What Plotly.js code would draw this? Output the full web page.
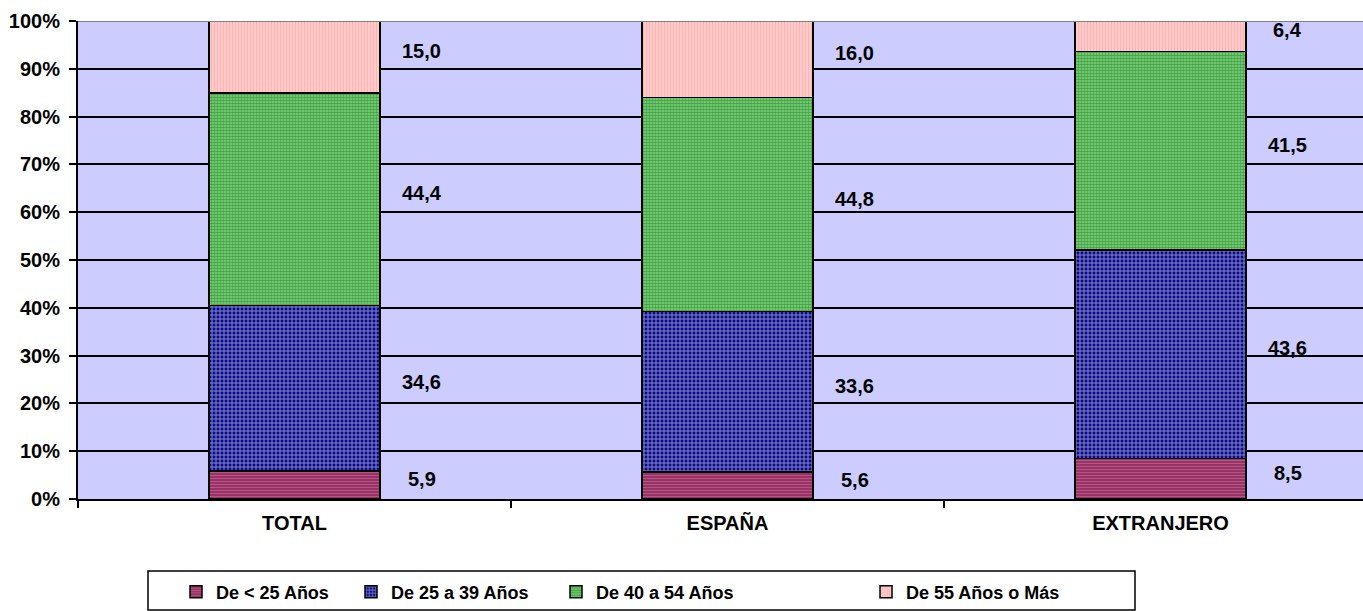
<!DOCTYPE html>
<html>
<head>
<meta charset="utf-8">
<script src="https://cdn.plot.ly/plotly-3.0.1.min.js"></script>
<style>html,body{margin:0;padding:0;overflow:hidden;background:#fff;}#chart{width:1363px;height:611px;}</style>
</head>
<body>
<div id="chart"></div>
<script>
const categories = ['TOTAL', 'ESPAÑA', 'EXTRANJERO'];
const seriesNames = ['De < 25 Años', 'De 25 a 39 Años', 'De 40 a 54 Años', 'De 55 Años o Más'];
const under25 = [5.9, 5.6, 8.5];
const from25to39 = [34.6, 33.6, 43.6];
const from40to54 = [44.4, 44.8, 41.5];
const over55 = [15.0, 16.0, 6.4];
const yTickValues = [0, 10, 20, 30, 40, 50, 60, 70, 80, 90, 100];

const seriesValues = [under25, from25to39, from40to54, over55];
const styles = [
  {color: '#993366', pattern: {shape: '-', fgcolor: '#D27AA6', size: 3, solidity: 0.35, fillmode: 'overlay'}},
  {color: '#0A0A8A', pattern: {shape: '+', fgcolor: '#FFFFFF', size: 4, solidity: 0.45, fillmode: 'overlay'}},
  {color: '#86D886', pattern: {shape: '.', fgcolor: '#006A00', size: 3, solidity: 0.65, fillmode: 'overlay'}},
  {color: '#FFCCCC', pattern: {shape: '|', fgcolor: '#FF9B9B', size: 3, solidity: 0.4, fillmode: 'overlay'}}
];
const font = {family: 'Arial, "Liberation Sans", sans-serif', size: 20, color: '#000', weight: 'bold'};

// pixel geometry helpers (layout only)
const W = 1363, H = 611, L = 78, T = 21, B = 112;
const plotW = W - L, plotH = H - T - B;
const px2x = p => (p - L) / plotW;
const py2y = p => (H - B - p) / plotH;

const legendTextStarts = [218, 393, 598, 908];
const traces = seriesNames.map((name, i) => ({
  type: 'bar',
  name: name,
  x: categories,
  y: seriesValues[i],
  width: 0.395,
  marker: {color: styles[i].color, pattern: styles[i].pattern, line: {color: '#000', width: 1.5}},
  legend: i === 0 ? 'legend' : 'legend' + (i + 1),
  hoverinfo: 'x+y+name'
}));

const annotations = [];
categories.forEach((c, ci) => {
  let base = 0;
  seriesValues.forEach(vals => {
    const v = vals[ci];
    annotations.push({
      x: c, y: base + v / 2, xref: 'x', yref: 'y',
      text: v.toFixed(1).replace('.', ','),
      showarrow: false, xshift: 127, yshift: 6,
      font: font
    });
    base += v;
  });
});

const legendBase = {orientation: 'h', yanchor: 'middle', xanchor: 'left', y: py2y(592),
  font: {family: font.family, size: 18, color: '#000', weight: 'bold'}, bgcolor: 'rgba(0,0,0,0)', borderwidth: 0};
const layout = {
  width: W, height: H,
  margin: {l: L, r: 0, t: T, b: B},
  paper_bgcolor: '#FFFFFF',
  plot_bgcolor: '#CCCCFF',
  barmode: 'stack',
  showlegend: true,
  font: font,
  xaxis: {
    type: 'category', range: [-0.5, -0.5 + plotW / 433],
    tickson: 'boundaries', ticks: 'outside', ticklen: 7, tickwidth: 1.5, tickcolor: '#000',
    showline: true, linecolor: '#000', linewidth: 2, showgrid: false,
    tickfont: font, ticklabelstandoff: 5, fixedrange: true
  },
  yaxis: {
    range: [0, 100], tickvals: yTickValues, ticktext: yTickValues.map(v => v + '%'),
    ticks: 'outside', ticklen: 7, tickwidth: 1.5, tickcolor: '#000',
    showline: true, linecolor: '#000', linewidth: 2,
    showgrid: true, gridcolor: '#000', gridwidth: 1.5, zeroline: false,
    tickfont: font, ticklabelstandoff: 5, fixedrange: true
  },
  annotations: annotations,
  shapes: [
    {type: 'line', xref: 'paper', yref: 'y', x0: 0, x1: 1, y0: 100, y1: 100, line: {color: '#808080', width: 2}, layer: 'above'},
    {type: 'rect', xref: 'paper', yref: 'paper', x0: px2x(148), x1: px2x(1135), y0: py2y(571), y1: py2y(610), line: {color: '#000', width: 1.5}, fillcolor: 'rgba(0,0,0,0)'}
  ]
};
legendTextStarts.forEach((p, i) => {
  layout[i === 0 ? 'legend' : 'legend' + (i + 1)] = Object.assign({}, legendBase, {x: px2x(p - 42)});
});

Plotly.newPlot('chart', traces, layout, {displayModeBar: false});
</script>
</body>
</html>
